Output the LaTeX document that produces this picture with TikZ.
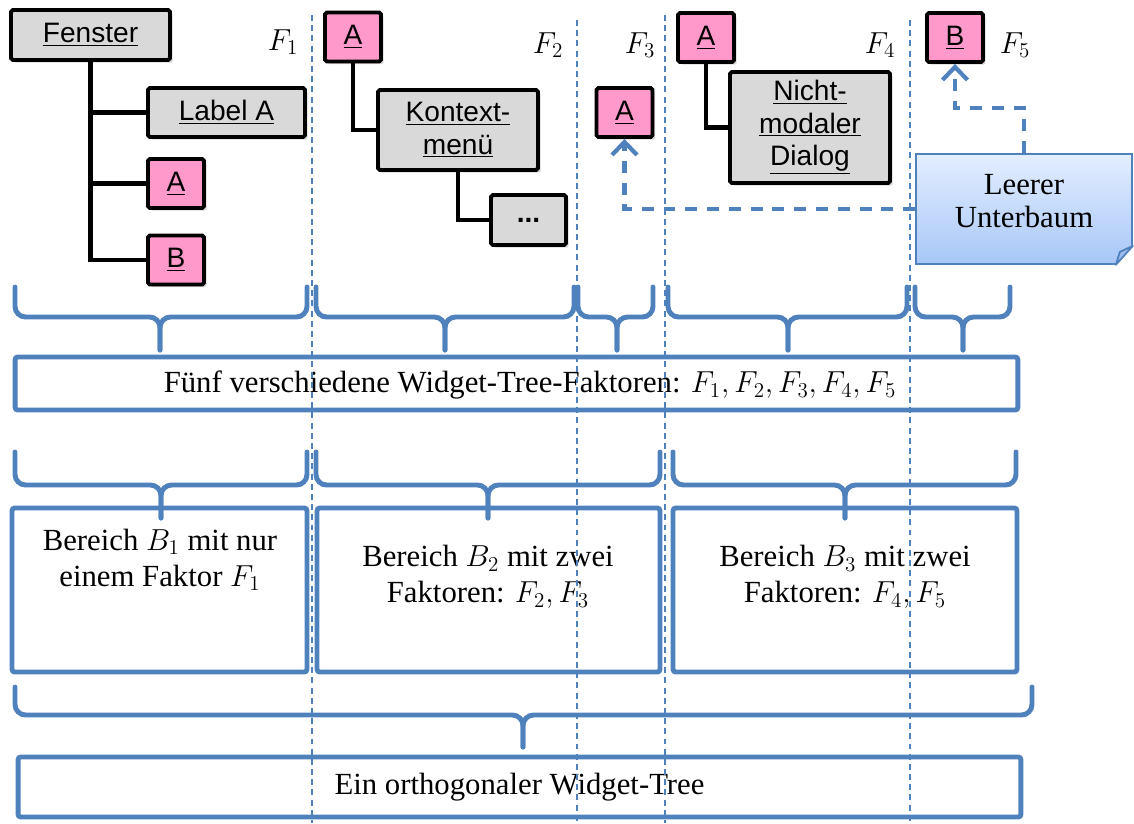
\documentclass[tikz,border=0pt]{standalone}
\usepackage{fontspec}
\setmainfont{Liberation Serif}
\newfontfamily\widgetfont{Liberation Sans}
\usepackage{tikz}
\usetikzlibrary{arrows.meta,shadows,calc}
\definecolor{blueline}{HTML}{4F81BD}
\definecolor{widgetgray}{HTML}{D9D9D9}
\definecolor{widgetpink}{HTML}{FF99CC}
\definecolor{notetop}{HTML}{E4EEFF}
\definecolor{notebottom}{HTML}{A7C7F7}
\tikzset{
 widget/.style={rectangle,draw=black,line width=2.2pt,rounded corners=1pt,inner sep=0pt,align=center,
  font=\widgetfont\fontsize{16}{18.5}\selectfont,drop shadow={opacity=0.3,shadow xshift=1.5pt,shadow yshift=-1.5pt}},
 graywidget/.style={widget,fill=widgetgray},
 pinkwidget/.style={widget,fill=widgetpink,minimum width=1.12cm,minimum height=0.98cm},
 treeline/.style={draw=black,line width=2.3pt},
 serif/.style={font=\fontsize{17.5}{20.5}\selectfont,align=center,inner sep=0pt},
 frame/.style={rectangle,draw=blueline,line width=2.8pt,rounded corners=1.5pt,inner sep=0pt,serif},
 brc/.style={draw=blueline,line width=2.8pt,rounded corners=6pt,line cap=round},
 sep/.style={draw=blueline,line width=0.9pt,dash pattern=on 3.4pt off 2.4pt},
 hint/.style={draw=blueline,line width=2.4pt,dash pattern=on 6.8pt off 5.6pt,-{Straight Barb[length=2.6mm,width=5mm]}},
 notebox/.style={rectangle,draw=blueline,line width=1pt,top color=notetop,bottom color=notebottom,
  minimum width=4.32cm,minimum height=2.2cm,align=center,font=\fontsize{17.5}{19}\selectfont}
}
\begin{document}
\begin{tikzpicture}[x=0.02cm,y=-0.02cm]
\useasboundingbox (0,0) rectangle (1134,823);
% Faktor F1
\node at (90.5,35)[graywidget,minimum width=3.18cm,minimum height=1cm](fenster){\underline{Fenster}};
\node at (226.5,112.5)[graywidget,minimum width=3.14cm,minimum height=0.98cm](labela){\underline{Label A}};
\node at (176,183.5)[pinkwidget](a1){\underline{A}};
\node at (176,260)[pinkwidget](b1){\underline{B}};
\draw[treeline] (fenster.south) |- (labela.west);
\draw[treeline] (fenster.south) |- (a1.west);
\draw[treeline] (fenster.south) |- (b1.west);
\node at (283,42)[serif](f1){$F_1$};
% Faktor F2
\node at (353,37)[pinkwidget](a2){\underline{A}};
\node at (458,130)[graywidget,minimum width=3.2cm,minimum height=1.6cm](kontext){\underline{Kontext-}\\\underline{menü}};
\node at (528.5,220)[graywidget,minimum width=1.5cm,minimum height=1cm](dots){\textbf{...}};
\draw[treeline] (a2.south) |- (kontext.west);
\draw[treeline] (kontext.south) |- (dots.west);
\node at (548,45)[serif](f2){$F_2$};
% Faktor F3
\node at (624.5,112.5)[pinkwidget](a3){\underline{A}};
\node at (640,45)[serif](f3){$F_3$};
% Faktor F4
\node at (706,37.5)[pinkwidget](a4){\underline{A}};
\node at (810,127.5)[graywidget,minimum width=3.2cm,minimum height=2.22cm](nicht){\underline{Nicht-}\\\underline{modaler}\\\underline{Dialog}};
\draw[treeline] (a4.south) |- (nicht.west);
\node at (880,45)[serif](f4){$F_4$};
% Faktor F5
\node at (955,37.5)[pinkwidget](b5){\underline{B}};
\node at (1015,45)[serif](f5){$F_5$};
% Notiz
\node at (1024,209)[notebox](note){Leerer\\Unterbaum\\[-10pt]\mbox{}};
\coordinate (fold) at (note.south east);
\fill[white] ($(fold)+(-17,0)$) -- ($(fold)+(0,-19)$) -- ($(fold)+(3,-19)$) -- ($(fold)+(3,3)$) -- ($(fold)+(-17,3)$) -- cycle;
\filldraw[fill=notebottom!85!blueline,draw=blueline,line width=1pt,line join=round]
 ($(fold)+(-17,0)$) -- ($(fold)+(0,-19)$) -- ($(fold)+(-13,-13)$) -- cycle;
\coordinate (bend) at (b5.south |- 0,108);
\draw[hint] (note.west) -| (a3.south);
\draw[hint] (note.north) |- (bend) -- (b5.south);
% Klammern
\foreach \xa/\xb/\xt/\ya/\yb/\yc in {15/307/160/287/317/350, 316/574/445/287/317/350, 578/653/617/287/317/350,
  668/907/788/287/317/350, 915/1010/963/287/317/350, 15/307/161/452/485/518, 316/660/488/452/485/518,
  673/1016/845/452/485/518, 15/1032/523/687/715/747}{
 \draw[brc] (\xa,\ya) -- (\xa,\yb) -- (\xt,\yb) -- (\xt,\yc);
 \draw[brc] (\xb,\ya) -- (\xb,\yb) -- (\xt,\yb) -- (\xt,\yc);
}
% Rahmen
\node at (516.5,383.5)[frame,minimum width=20.06cm,minimum height=1.06cm](faktoren){};
\node at (530,385)[serif](faktorentxt){Fünf verschiedene Widget-Tree-Faktoren: $F_1, F_2, F_3, F_4, F_5$};
\node at (159.5,590)[frame,minimum width=5.9cm,minimum height=3.28cm](bereich1){};
\node at (160,560)[serif](bereich1txt){Bereich $B_1$ mit nur\\einem Faktor $F_1$};
\node at (488.5,590)[frame,minimum width=6.86cm,minimum height=3.28cm](bereich2){};
\node at (488,577)[serif](bereich2txt){Bereich $B_2$ mit zwei\\Faktoren: $F_2, F_3$};
\node at (845,590)[frame,minimum width=6.88cm,minimum height=3.28cm](bereich3){};
\node at (845,577)[serif](bereich3txt){Bereich $B_3$ mit zwei\\Faktoren: $F_4, F_5$};
\node at (519.5,787)[frame,minimum width=20.06cm,minimum height=1.2cm](tree){Ein orthogonaler Widget-Tree};
% Trennlinien
\foreach \x/\ys in {312/15, 577/20, 665/15, 910/20}
 \draw[sep] (\x,\ys) -- (\x,823);
\end{tikzpicture}
\end{document}
